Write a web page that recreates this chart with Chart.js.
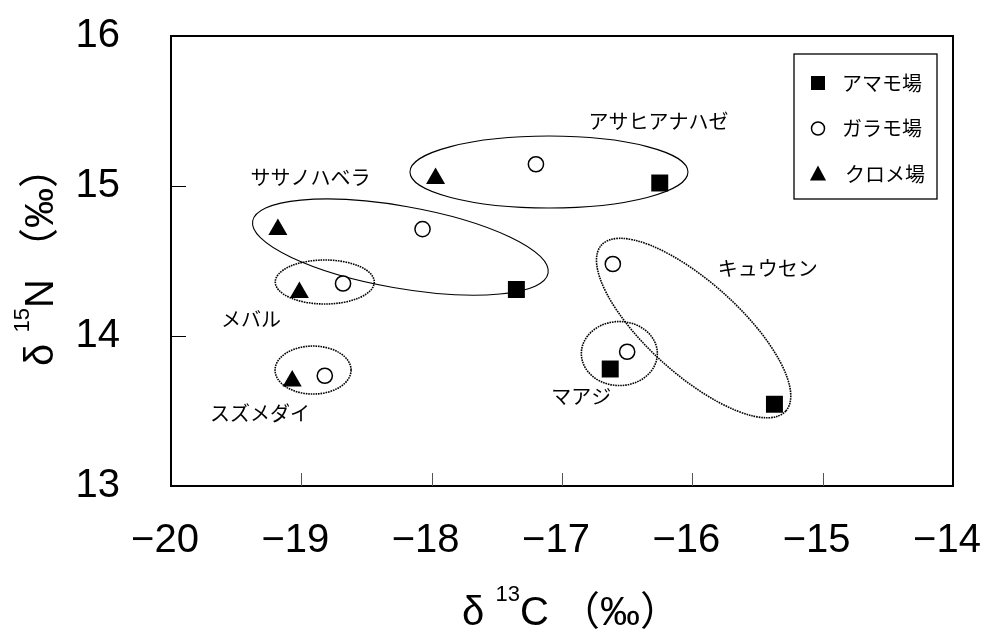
<!DOCTYPE html>
<html lang="ja">
<head>
<meta charset="utf-8">
<title>δ13C - δ15N</title>
<script src="https://cdn.jsdelivr.net/npm/chart.js@4.4.1/dist/chart.umd.min.js"></script>
<style>
  html, body { margin: 0; padding: 0; background: #fff; }
  #wrap { width: 993px; height: 641px; }
</style>
</head>
<body>
<div id="wrap"><canvas id="isoChart" width="993" height="641"></canvas></div>
<script>
// values (δ13C, δ15N)
const seriesNames = ['アマモ場', 'ガラモ場', 'クロメ場'];
const amamoX = [-16.25, -17.35, -16.63, -15.37];
const amamoY = [15.02, 14.31, 13.78, 13.545];
const garamoX = [-17.20, -18.07, -18.68, -18.82, -16.61, -16.50];
const garamoY = [15.145, 14.713, 14.35, 13.735, 14.48, 13.895];
const kuromeX = [-17.97, -19.18, -19.015, -19.07];
const kuromeY = [15.05, 14.71, 14.29, 13.70];

const xTicks = [-20, -19, -18, -17, -16, -15, -14];
const yTicks = [13, 14, 15, 16];

// fish species groups: ring centre and label anchor, in data units
const groupNames = ['アサヒアナハゼ', 'ササノハベラ', 'メバル', 'スズメダイ', 'マアジ', 'キュウセン'];
const groupCenterX = [-17.10, -18.24, -18.82, -18.91, -16.56, -15.99];
const groupCenterY = [15.093, 14.593, 14.36, 13.773, 13.883, 14.053];
const groupLabelX = [-16.26, -18.93, -19.386, -19.317, -16.853, -15.422];
const groupLabelY = [15.433, 15.06, 14.113, 13.487, 13.595, 14.453];

// ring shapes (pixels / degrees) - styling only
const ringStyle = [
    { rx: 139, ry: 36, rot: 0, dotted: false },
    { rx: 150, ry: 41, rot: 10, dotted: false },
    { rx: 49.5, ry: 22, rot: 0, dotted: true },
    { rx: 38, ry: 24, rot: 0, dotted: true },
    { rx: 38, ry: 32, rot: 0, dotted: true },
    { rx: 124, ry: 46, rot: 42, dotted: true }
];

const pairs = (xs, ys) => xs.map((x, i) => ({ x: x, y: ys[i] }));
const latin = '"Liberation Sans", "Noto Sans CJK JP", sans-serif';
const jp = '"Noto Sans CJK JP", sans-serif';

function drawMarker(ctx, style, x, y, r) {
    ctx.save();
    ctx.fillStyle = '#000';
    ctx.strokeStyle = '#000';
    ctx.lineWidth = 1.5;
    ctx.beginPath();
    if (style === 'rect') {
        ctx.rect(x - r, y - r, 2 * r, 2 * r);
        ctx.fill();
    } else if (style === 'circle') {
        ctx.fillStyle = '#fff';
        ctx.arc(x, y, r, 0, Math.PI * 2);
        ctx.fill();
        ctx.stroke();
    } else {
        ctx.moveTo(x, y - r);
        ctx.lineTo(x + r * 0.95, y + r * 0.75);
        ctx.lineTo(x - r * 0.95, y + r * 0.75);
        ctx.closePath();
        ctx.fill();
    }
    ctx.restore();
}

// text with a superscript part
function drawRich(ctx, parts, cx, cy, angle) {
    ctx.save();
    ctx.translate(cx, cy);
    ctx.rotate(angle);
    ctx.fillStyle = '#000';
    ctx.textBaseline = 'alphabetic';
    ctx.textAlign = 'left';
    let total = 0;
    parts.forEach(p => { ctx.font = p.s + 'px ' + latin; total += ctx.measureText(p.t).width; });
    let x = -total / 2;
    parts.forEach(p => {
        ctx.font = p.s + 'px ' + latin;
        ctx.fillText(p.t, x, -(p.up || 0));
        x += ctx.measureText(p.t).width;
    });
    ctx.restore();
}

// no label overflow margins, so the plot box sits where the layout padding says
const noOverflow = s => {
    s.paddingTop = 0; s.paddingBottom = 0; s.paddingLeft = 0; s.paddingRight = 0;
};

const decor = {
    id: 'decor',
    beforeDatasetsDraw(chart) {
        const { ctx } = chart;
        const xs = chart.scales.x, ys = chart.scales.y;
        ringStyle.forEach((st, i) => {
            const px = xs.getPixelForValue(groupCenterX[i]);
            const py = ys.getPixelForValue(groupCenterY[i]);
            ctx.save();
            ctx.strokeStyle = '#000';
            ctx.lineWidth = st.dotted ? 1.6 : 1.1;
            ctx.setLineDash(st.dotted ? [1.6, 0.9] : []);
            ctx.beginPath();
            ctx.ellipse(px, py, st.rx, st.ry, st.rot * Math.PI / 180, 0, Math.PI * 2);
            ctx.stroke();
            ctx.restore();
        });
    },
    afterDraw(chart) {
        const { ctx, chartArea: a } = chart;
        const xs = chart.scales.x, ys = chart.scales.y;

        // frame and inner tick marks
        ctx.save();
        ctx.strokeStyle = '#000';
        ctx.lineWidth = 2;
        ctx.strokeRect(a.left, a.top, a.right - a.left, a.bottom - a.top);
        ctx.lineWidth = 1;
        ctx.strokeStyle = '#555';
        xTicks.slice(1, -1).forEach(v => {
            const px = Math.round(xs.getPixelForValue(v)) + 0.5;
            ctx.beginPath(); ctx.moveTo(px, a.bottom); ctx.lineTo(px, a.bottom - 13); ctx.stroke();
        });
        ctx.strokeStyle = '#000';
        yTicks.slice(1, -1).forEach(v => {
            const py = Math.round(ys.getPixelForValue(v)) + 0.5;
            ctx.beginPath(); ctx.moveTo(a.left, py); ctx.lineTo(a.left + 15, py); ctx.stroke();
        });
        ctx.restore();

        // group labels
        ctx.save();
        ctx.fillStyle = '#000';
        ctx.font = '20px ' + jp;
        ctx.textAlign = 'center';
        ctx.textBaseline = 'middle';
        groupNames.forEach((name, i) => {
            ctx.fillText(name, xs.getPixelForValue(groupLabelX[i]), ys.getPixelForValue(groupLabelY[i]));
        });
        ctx.restore();

        // legend box
        const bx = a.right - 159, by = a.top + 18, bw = 143, bh = 145;
        ctx.save();
        ctx.fillStyle = '#fff';
        ctx.fillRect(bx, by, bw, bh);
        ctx.strokeStyle = '#000';
        ctx.lineWidth = 1.3;
        ctx.strokeRect(bx, by, bw, bh);
        const styles = ['rect', 'circle', 'triangle'];
        const sizes = [7, 6.5, 8.5];
        ctx.font = '20px ' + jp;
        ctx.textBaseline = 'middle';
        ctx.textAlign = 'left';
        chart.data.datasets.forEach((ds, i) => {
            const ry = by + 29 + i * 45.5;
            drawMarker(ctx, styles[i], bx + 24, ry, sizes[i]);
            ctx.fillStyle = '#000';
            ctx.fillText(ds.label, bx + 48 + (i === 2 ? 3 : 0), ry);
        });
        ctx.restore();

        // axis titles
        const midX = (a.left + a.right) / 2 + 9;
        drawRich(ctx, [
            { t: 'δ ', s: 40 }, { t: '13', s: 22, up: 24 }, { t: 'C', s: 40 }, { t: ' （‰）', s: 40 }
        ], midX, chart.height - 16, 0);
        const midY = (a.top + a.bottom) / 2 - 4;
        drawRich(ctx, [
            { t: 'δ ', s: 40 }, { t: '15', s: 22, up: 24 }, { t: 'N', s: 40 }, { t: ' （‰）', s: 40 }
        ], 53, midY, -Math.PI / 2);
    }
};

const ctx = document.getElementById('isoChart').getContext('2d');
new Chart(ctx, {
    type: 'scatter',
    data: {
        datasets: [
            {
                label: seriesNames[0],
                data: pairs(amamoX, amamoY),
                pointStyle: 'rect',
                pointRadius: 12,
                backgroundColor: '#000',
                borderColor: '#000',
                borderWidth: 0
            },
            {
                label: seriesNames[1],
                data: pairs(garamoX, garamoY),
                pointStyle: 'circle',
                pointRadius: 7.6,
                backgroundColor: '#fff',
                borderColor: '#000',
                borderWidth: 1.5
            },
            {
                label: seriesNames[2],
                data: pairs(kuromeX, kuromeY),
                pointStyle: 'triangle',
                pointRadius: 11,
                backgroundColor: '#000',
                borderColor: '#000',
                borderWidth: 0
            }
        ]
    },
    options: {
        responsive: false,
        animation: false,
        devicePixelRatio: 1,
        layout: { padding: { top: 36, right: 40, left: 0, bottom: 0 } },
        plugins: {
            legend: { display: false },
            tooltip: { enabled: false }
        },
        scales: {
            x: {
                type: 'linear',
                min: xTicks[0],
                max: xTicks[xTicks.length - 1],
                afterBuildTicks: s => { s.ticks = xTicks.map(v => ({ value: v })); },
                grid: { display: false, drawTicks: false },
                border: { display: false },
                ticks: {
                    color: '#000',
                    padding: 31,
                    labelOffset: -6,
                    font: { family: latin, size: 40 },
                    callback: v => String(v).replace('-', '−')
                },
                afterFit: s => { s.height = 155; noOverflow(s); }
            },
            y: {
                type: 'linear',
                min: yTicks[0],
                max: yTicks[yTicks.length - 1],
                afterBuildTicks: s => { s.ticks = yTicks.map(v => ({ value: v })); },
                grid: { display: false, drawTicks: false },
                border: { display: false },
                ticks: {
                    color: '#000',
                    padding: 51,
                    font: { family: latin, size: 40 }
                },
                afterFit: s => { s.width = 171; noOverflow(s); }
            }
        }
    },
    plugins: [decor]
});
</script>
</body>
</html>
